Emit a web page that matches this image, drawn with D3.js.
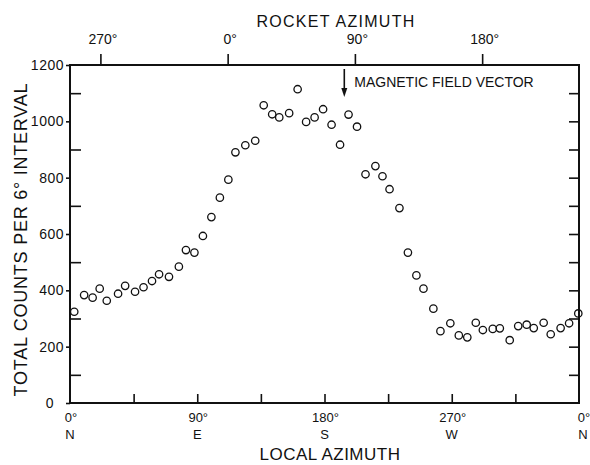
<!DOCTYPE html>
<html>
<head>
<meta charset="utf-8">
<script src="https://cdn.jsdelivr.net/npm/d3@7"></script>
<style>
  body { margin: 0; background: #fff; }
  text { font-family: "Liberation Sans", Arial, sans-serif; fill: #111; }
</style>
</head>
<body>
<script>
// local azimuth (deg) of each 6 degree bin
const localAzimuth = [3, 10, 16, 21, 26, 34, 39, 46, 52, 58, 63, 70, 77, 82, 88, 94, 100, 106, 112, 117,
  124, 131, 137, 143, 148, 155, 161, 167, 173, 179, 185, 191, 197, 203, 209, 216, 221, 226, 233, 239,
  245, 250, 257, 262, 269, 275, 281, 287, 292, 299, 304, 311, 317, 323, 328, 335, 340, 347, 353, 359.5];
// total counts per 6 degree interval
const counts = [324, 383, 374, 406, 363, 388, 416, 395, 411, 433, 457, 448, 484, 543, 534, 593, 660, 729, 793, 890,
  915, 931, 1057, 1025, 1014, 1029, 1114, 998, 1014, 1043, 988, 917, 1024, 981, 812, 841, 805, 759, 692, 534,
  453, 406, 335, 255, 283, 240, 233, 285, 259, 263, 265, 223, 273, 278, 266, 285, 244, 266, 283, 318];

const bottomTicks = [0, 90, 180, 270, 360];
const bottomLabels = ["0°", "90°", "180°", "270°", "0°"];
const compass = ["N", "E", "S", "W", "N"];
const rocketTicks = [270, 0, 90, 180];
const rocketZero = 111.5;      // local azimuth where rocket azimuth is 0
const fieldAzimuth = 194;      // magnetic field vector, local azimuth
const yMajor = [0, 200, 400, 600, 800, 1000, 1200];
const yMinor = [100, 300, 500, 700, 900, 1100];
const yAll = [100, 200, 300, 400, 500, 600, 700, 800, 900, 1000, 1100];

const width = 590, height = 465;
const margin = { top: 65, right: 11, bottom: 62, left: 70 };

const svg = d3.select("body").append("svg")
  .attr("width", width).attr("height", height);

const x = d3.scaleLinear().domain([0, 360]).range([margin.left, width - margin.right]);
const y = d3.scaleLinear().domain([0, 1200]).range([height - margin.bottom, margin.top]);

function styleTicks(g) {
  g.select(".domain").remove();
  g.selectAll("line").attr("stroke", "#111").attr("stroke-width", 1.6);
}

// frame
svg.append("rect")
  .attr("x", x(0)).attr("y", y(1200))
  .attr("width", x(360) - x(0)).attr("height", y(0) - y(1200))
  .attr("fill", "none").attr("stroke", "#111").attr("stroke-width", 2);

// bottom axis: inward ticks every 45 deg
const bottomAxis = svg.append("g").attr("transform", `translate(0,${y(0)})`)
  .call(d3.axisBottom(x).tickValues(d3.range(45, 360, 45)).tickSize(-9).tickFormat(""));
styleTicks(bottomAxis);

bottomTicks.forEach((d, i) => {
  const cx = i === bottomTicks.length - 1 ? x(d) + 5 : x(d) + 1;
  svg.append("text").attr("x", cx).attr("y", 422)
    .attr("text-anchor", "middle").style("font-size", "13px").text(bottomLabels[i]);
  svg.append("text").attr("x", cx - 1).attr("y", 439)
    .attr("text-anchor", "middle").style("font-size", "13px").text(compass[i]);
});

// top axis: rocket azimuth
const topAxis = svg.append("g").attr("transform", `translate(0,${y(1200)})`)
  .call(d3.axisTop(x)
    .tickValues(rocketTicks.map(r => (r + rocketZero) % 360))
    .tickSize(11).tickPadding(10)
    .tickFormat(v => Math.round((v - rocketZero + 360) % 360) + "°"));
styleTicks(topAxis);
topAxis.selectAll("text").style("font-size", "14px").attr("dx", 2);

// left axis: labelled outward ticks, minor inward ticks
const leftAxis = svg.append("g").attr("transform", `translate(${x(0)},0)`)
  .call(d3.axisLeft(y).tickValues(yMajor).tickSize(4).tickPadding(2).tickFormat(d3.format("d")));
styleTicks(leftAxis);
leftAxis.selectAll("text").style("font-size", "14px").attr("letter-spacing", "0.5px")
  .attr("dx", d => d === 0 ? -10 : 0);

const leftMinor = svg.append("g").attr("transform", `translate(${x(0)},0)`)
  .call(d3.axisLeft(y).tickValues(yMinor).tickSize(-11).tickFormat(""));
styleTicks(leftMinor);

const rightAxis = svg.append("g").attr("transform", `translate(${x(360)},0)`)
  .call(d3.axisRight(y).tickValues(yAll).tickSize(-10).tickFormat(""));
styleTicks(rightAxis);

// data points
svg.append("g").selectAll("circle")
  .data(counts)
  .join("circle")
  .attr("cx", (d, i) => x(localAzimuth[i]))
  .attr("cy", d => y(d))
  .attr("r", 3.7)
  .attr("fill", "none")
  .attr("stroke", "#111")
  .attr("stroke-width", 1.3);

// magnetic field vector arrow
const ax = x(fieldAzimuth);
svg.append("line").attr("x1", ax).attr("x2", ax).attr("y1", 69).attr("y2", 90)
  .attr("stroke", "#111").attr("stroke-width", 1.6);
svg.append("path").attr("d", `M${ax - 3},88 L${ax + 3},88 L${ax},97 Z`).attr("fill", "#111");
svg.append("text").attr("x", ax + 10).attr("y", 87)
  .style("font-size", "14px").text("MAGNETIC FIELD VECTOR");

// titles
svg.append("text").attr("x", 336).attr("y", 27).attr("text-anchor", "middle")
  .style("font-size", "16px").attr("letter-spacing", "1.3px").text("ROCKET AZIMUTH");
svg.append("text").attr("x", 330).attr("y", 460).attr("text-anchor", "middle")
  .style("font-size", "17px").attr("letter-spacing", "0.5px").text("LOCAL AZIMUTH");
svg.append("text")
  .attr("transform", "translate(27,240) rotate(-90)")
  .attr("text-anchor", "middle")
  .attr("textLength", 313).attr("lengthAdjust", "spacing")
  .style("font-size", "18px").text("TOTAL COUNTS PER 6° INTERVAL");
</script>
</body>
</html>
